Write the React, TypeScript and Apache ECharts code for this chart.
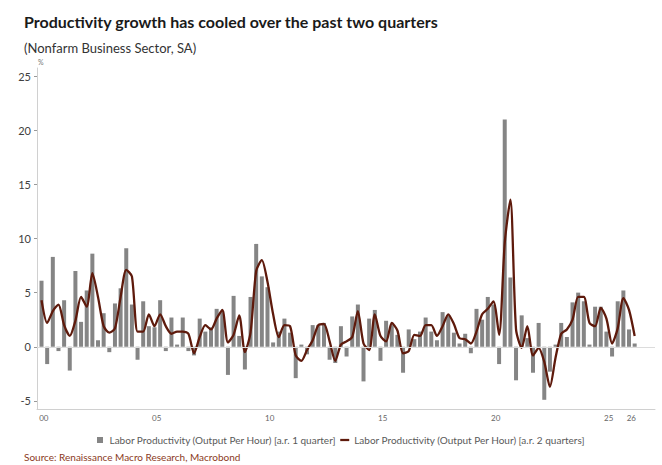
import React, { useEffect, useRef } from "react";
import * as echarts from "echarts";

// Quarterly data, first observation 1999Q4, last 2026Q1
const firstYear = 1999;
const firstQuarter = 4;

// Labor productivity, annualized rate, 1 quarter (%)
const barValues = [
  6.1, -1.6, 8.3, -0.4, 4.3, -2.2, 7.0, 2.3, 5.2, 8.6,
  0.6, 3.1, -0.5, 4.0, 5.4, 9.1, 3.9, -1.2, 4.2, 1.9,
  1.8, 4.3, -0.4, 2.7, 0.2, 2.7, -0.4, -0.8, 2.6, 1.4,
  1.8, 3.5, 3.3, -2.6, 4.7, 1.0, -2.1, 4.6, 9.5, 6.5,
  5.5, 0.4, 1.4, 2.6, 1.3, -2.9, 0.2, -0.7, 2.0, 2.0,
  2.2, -1.2, -1.5, 1.9, -0.9, 2.8, 3.9, -3.2, 2.6, 3.4,
  -1.3, 2.4, 2.0, 1.1, -2.4, 1.6, 0.7, 1.4, 2.7, 1.4,
  0.6, 3.2, 2.9, 1.3, 0.3, 1.2, -0.6, 3.5, 2.5, 4.6,
  3.9, -1.6, 21.0, 6.4, -3.1, 2.9, 0.8, -2.4, 2.2, -4.9,
  -2.3, 0.2, 2.2, 0.9, 4.1, 5.0, 4.2, 0.2, 3.7, 3.7,
  1.4, -0.9, 4.2, 5.2, 1.6, 0.3,
];

// Labor productivity, annualized rate, 2 quarters (%)
const lineValues = [
  4.3, 2.2, 3.3, 3.9, 2.0, 1.0, 2.4, 4.6, 3.7, 6.8,
  4.6, 1.9, 1.3, 1.7, 4.6, 7.1, 6.5, 1.4, 1.4, 3.0,
  1.9, 3.0, 1.9, 1.2, 1.4, 1.4, 1.2, -0.6, 0.9, 2.0,
  1.6, 2.6, 3.4, 0.4, 1.1, 2.9, -0.5, 1.3, 7.0, 8.0,
  6.0, 3.0, 0.9, 2.0, 1.9, -0.8, -1.3, -0.3, 0.6, 2.0,
  2.1, 0.5, -1.3, 0.2, 0.5, 0.9, 3.3, 0.3, -0.3, 3.0,
  1.0, 0.5, 2.2, 1.5, -0.6, -0.4, 1.1, 1.0, 2.0, 2.0,
  1.0, 1.9, 3.0, 2.1, 0.8, 0.7, 0.3, 1.4, 3.0, 3.5,
  4.2, 1.1, 9.6, 13.6, 1.6, -0.1, 1.9, -0.8, -0.1, -1.4,
  -3.7, -1.0, 1.2, 1.6, 2.5, 4.6, 4.6, 2.2, 1.9, 3.6,
  2.6, 0.3, 1.7, 4.5, 3.4, 1.0,
];

const tickYears = [2000, 2005, 2010, 2015, 2020, 2025, 2026];
const yTicks = [-5, 0, 5, 10, 15, 20, 25];

const titleText = "Productivity growth has cooled over the past two quarters";
const subtitleText = "(Nonfarm Business Sector, SA)";
const sourceText = "Source: Renaissance Macro Research, Macrobond";
const barName = "Labor Productivity (Output Per Hour) [a.r. 1 quarter]";
const lineName = "Labor Productivity (Output Per Hour) [a.r. 2 quarters]";

const quarterLabels = barValues.map((_, i) => {
  const q = firstQuarter - 1 + i;
  return `${firstYear + Math.floor(q / 4)}Q${(q % 4) + 1}`;
});
// time position of each quarter (end of quarter, in fractional years)
const quarterPos = quarterLabels.map((s) => {
  const [y, q] = s.split("Q").map(Number);
  return y + q / 4;
});

export default function App() {
  const ref = useRef<HTMLDivElement>(null);
  useEffect(() => {
    if (!ref.current) return;
    const chart = echarts.init(ref.current, undefined, { renderer: "svg" });
    const font = "Lato, 'Open Sans', sans-serif";
    chart.setOption({
      animation: false,
      textStyle: { fontFamily: font },
      title: [
        {
          text: titleText,
          left: 19,
          top: 8,
          textStyle: { fontSize: 16, fontWeight: "bold", color: "#1a1a1a", fontFamily: font },
        },
        {
          text: subtitleText,
          left: 19,
          top: 36,
          textStyle: { fontSize: 13, fontWeight: "normal", color: "#333333", fontFamily: font },
        },
        {
          text: sourceText,
          left: 19,
          top: 447,
          textStyle: { fontSize: 10, fontWeight: "normal", color: "#8B3A1C", fontFamily: font },
        },
      ],
      graphic: [
        {
          type: "text",
          left: 38,
          top: 58,
          style: { text: "%", fontSize: 7, fill: "#777777", fontFamily: font },
        },
      ],
      grid: { left: 37, right: 7, top: 68, bottom: 56, containLabel: false },
      legend: {
        top: 430,
        left: 92,
        itemGap: 4,
        itemWidth: 9,
        itemHeight: 6,
        textStyle: { fontSize: 10, color: "#595959", fontFamily: font },
        data: [
          { name: barName, icon: "path://M0,0H6V6H0Z" },
          { name: lineName, icon: "path://M0,0H12V3H0Z" },
        ],
      },
      xAxis: {
        type: "value",
        min: 1999.8,
        max: 2027.15,
        axisLine: { show: true, onZero: false, lineStyle: { color: "#d0d0d0" } },
        axisTick: { show: false },
        splitLine: { show: false },
        axisLabel: {
          customValues: tickYears.map((y) => y + 0.1),
          formatter: (v: number) => String(Math.floor(v) % 100).padStart(2, "0"),
          fontSize: 8,
          color: "#666666",
          margin: 5,
        },
      },
      yAxis: {
        type: "value",
        min: -5.75,
        max: 25.75,
        axisLine: { show: true, lineStyle: { color: "#d0d0d0" } },
        axisTick: { show: true, length: 3, customValues: yTicks, lineStyle: { color: "#999999" } },
        axisLabel: { customValues: yTicks, fontSize: 11, color: "#404040", margin: 6 },
        splitLine: { show: false },
      },
      series: [
        {
          type: "bar",
          name: barName,
          data: barValues.map((v, i) => [quarterPos[i], v]),
          barWidth: 4,
          itemStyle: { color: "#858585" },
          z: 2,
          markLine: {
            silent: true,
            symbol: "none",
            label: { show: false },
            lineStyle: { color: "#dcdcdc", width: 1, type: "solid" },
            data: [{ yAxis: 0 }],
          },
        },
        {
          type: "line",
          name: lineName,
          data: lineValues.map((v, i) => [quarterPos[i], v]),
          showSymbol: false,
          symbol: "none",
          smooth: 0.25,
          lineStyle: { color: "#5e1a0c", width: 2.3 },
          itemStyle: { color: "#5e1a0c" },
          z: 3,
        },
      ],
    });
    return () => chart.dispose();
  }, []);
  return (
    <div
      ref={ref}
      style={{ position: "absolute", left: 0, top: 0, width: 662, height: 465, background: "#ffffff" }}
    />
  );
}
